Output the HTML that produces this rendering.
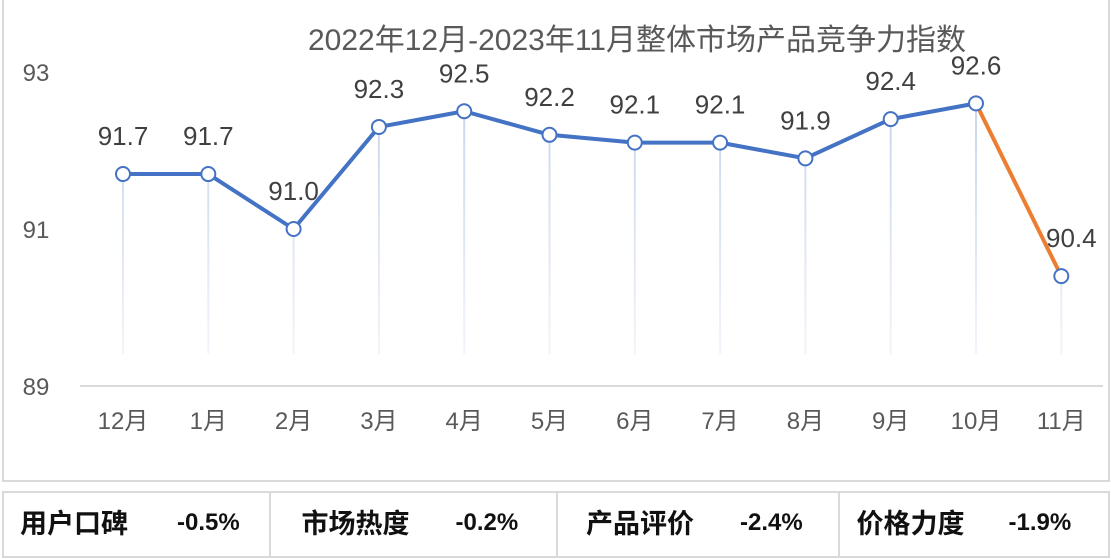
<!DOCTYPE html>
<html><head><meta charset="utf-8"><style>
body{margin:0;width:1111px;height:559px;background:#fff;font-family:"Liberation Sans","Noto Sans CJK SC",sans-serif;overflow:hidden;position:relative}
#box{position:absolute;left:2px;top:0;width:1104px;height:480px;border:2px solid #d9d9d9;border-top:none}
#tbl{position:absolute;left:2px;top:491px;width:1104px;height:63px;border:2px solid #d9d9d9;display:flex}
.cell{position:relative;height:63px;border-right:2px solid #d9d9d9;color:#111}
.cell:last-child{border-right:none}
.cell .k{position:absolute;left:16px;top:13px;font-size:27px;line-height:32px;font-weight:bold;font-family:"Noto Sans CJK SC",sans-serif}
.cell .v{position:absolute;top:16px;font-weight:bold;font-size:24px;line-height:28px}
</style></head><body>
<div id="box"></div>
<svg id="chart" width="1111" height="485" style="position:absolute;left:0;top:0">
<defs><linearGradient id="dg" gradientUnits="userSpaceOnUse" x1="0" y1="80" x2="0" y2="386"><stop offset="0" stop-color="#c5d3ea"/><stop offset="1" stop-color="#c5d3ea" stop-opacity="0.15"/></linearGradient></defs>
<text x="637" y="50" text-anchor="middle" font-size="30" fill="#595959" font-family="Liberation Sans,Noto Sans CJK SC,sans-serif">2022年12月-2023年11月整体市场产品竞争力指数</text>
</svg>
<div id="tbl">
<div class="cell" style="width:265px"><span class="k">用户口碑</span><span class="v" style="left:173px">-0.5%</span></div>
<div class="cell" style="width:286px"><span class="k" style="left:31px">市场热度</span><span class="v" style="left:185px">-0.2%</span></div>
<div class="cell" style="width:281px"><span class="k" style="left:28px">产品评价</span><span class="v" style="left:182px">-2.4%</span></div>
<div class="cell" style="width:268px"><span class="k">价格力度</span><span class="v" style="left:168px">-1.9%</span></div>
</div>
<script>
const categories=["12月","1月","2月","3月","4月","5月","6月","7月","8月","9月","10月","11月"];
const values=[91.7,91.7,91.0,92.3,92.5,92.2,92.1,92.1,91.9,92.4,92.6,90.4];
const yTicks=[89,91,93];
const NS="http://www.w3.org/2000/svg";
const svg=document.getElementById('chart');
const x=i=>123+i*85.3;
const y=v=>229-(v-91)*78.5;
function mk(t,a){const e=document.createElementNS(NS,t);for(const k in a)e.setAttribute(k,a[k]);svg.appendChild(e);return e;}
yTicks.forEach(t=>{const e=mk('text',{x:36,y:y(t)+9,'text-anchor':'middle','font-size':24,fill:'#595959'});e.textContent=t;

});
const ax=mk('line',{x1:80,x2:1103,y1:y(89),y2:y(89),stroke:'#d9d9d9','stroke-width':2});


categories.forEach((c,i)=>{const e=mk('text',{x:x(i),y:429,'text-anchor':'middle','font-size':24,fill:'#595959','font-family':'Liberation Sans,Noto Sans CJK SC,sans-serif'});e.textContent=c;


const d=mk('line',{x1:x(i),x2:x(i),y1:y(values[i]),y2:y(89)-32,stroke:'url(#dg)','stroke-width':2});

});
let pts=values.slice(0,11).map((v,i)=>x(i)+','+y(v)).join(' ');
const pl=mk('polyline',{points:pts,fill:'none',stroke:'#4472c4','stroke-width':4,'stroke-linejoin':'round'});


const n=values.length;
const seg=mk('line',{x1:x(n-2),y1:y(values[n-2]),x2:x(n-1),y2:y(values[n-1]),stroke:'#ed7d31','stroke-width':4});


values.forEach((v,i)=>{const c=mk('circle',{cx:x(i),cy:y(v),r:7,fill:'#fff',stroke:'#4472c4','stroke-width':2});


const t=mk('text',{x:x(i)+(i==n-1?10:0),y:y(v)-29,'text-anchor':'middle','font-size':26,fill:'#404040'});t.textContent=v.toFixed(1);

});
</script>
</body></html>
